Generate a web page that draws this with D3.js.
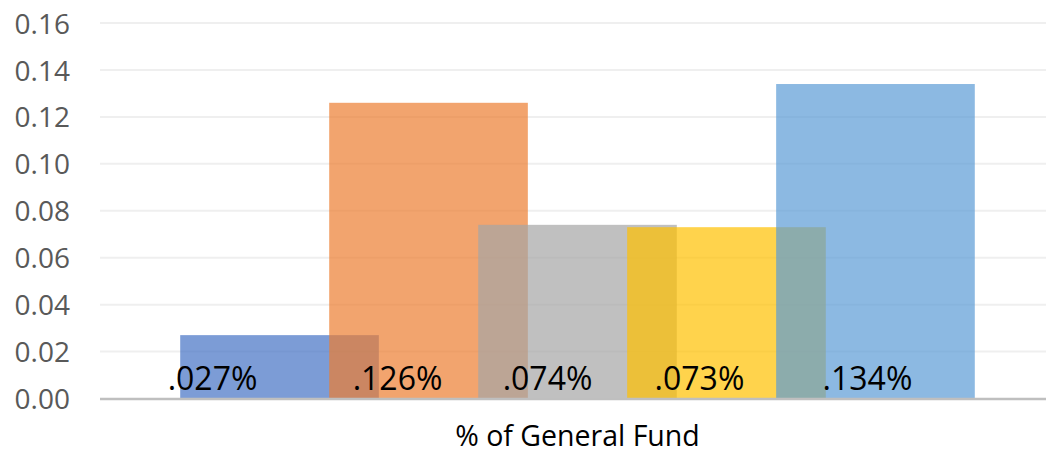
<!DOCTYPE html>
<html>
<head>
<meta charset="utf-8">
<script src="https://cdn.jsdelivr.net/npm/d3@7"></script>
<style>
  html, body { margin: 0; padding: 0; background: #fff; }
  svg { display: block; }
</style>
</head>
<body>
<svg id="chart" width="1046" height="453"></svg>
<script>
// ---- data ----
const categories = ["% of General Fund"];
const series = ["s1", "s2", "s3", "s4", "s5"];
const values = [0.027, 0.126, 0.074, 0.073, 0.134];
const labels = [".027%", ".126%", ".074%", ".073%", ".134%"];
const yTicks = [0, 0.02, 0.04, 0.06, 0.08, 0.10, 0.12, 0.14, 0.16];

// ---- styles / layout ----
const colors = ["#4472C4", "#ED7D31", "#A5A5A5", "#FFC000", "#5B9BD5"];
const labelDx = [-67, -31, -30, -27, -8];
const W = 1046, H = 453;
const plot = { left: 100, right: 1055, top: 23, bottom: 398.5 };

const svg = d3.select("#chart");

const y = d3.scaleLinear().domain([0, 0.16]).range([plot.bottom, plot.top]);
const xCat = d3.scaleBand().domain(categories).range([plot.left, plot.right])
  .paddingInner(0).paddingOuter(0.141);
const xSer = d3.scaleBand().domain(series).range([0, xCat.bandwidth()]).padding(0);
const barW = xSer.bandwidth() * 4 / 3; // 25% overlap

// gridlines
svg.append("g").selectAll("line").data(yTicks.filter(d => d > 0)).join("line")
  .attr("x1", plot.left).attr("x2", W)
  .attr("y1", d => y(d)).attr("y2", d => y(d))
  .attr("stroke", "#efefef").attr("stroke-width", 2);

// y axis labels
const yAxis = d3.axisLeft(y).tickValues(yTicks).tickFormat(d3.format(".2f")).tickSize(0).tickPadding(0);
const ya = svg.append("g").attr("transform", `translate(70,0)`).call(yAxis);
ya.select(".domain").remove();
ya.selectAll("text")
  .attr("font-family", "'Open Sans', sans-serif")
  .attr("font-size", 28)
  .attr("fill", "#595959")
  .attr("dy", "0.36em");

// bars
const cx = (i) => xCat(categories[0]) + xSer(series[i]) + xSer.bandwidth() / 2;
svg.append("g").selectAll("rect").data(values).join("rect")
  .attr("x", (d, i) => cx(i) - barW / 2)
  .attr("width", barW)
  .attr("y", d => y(d))
  .attr("height", d => y(0) - y(d))
  .attr("fill", (d, i) => colors[i])
  .attr("fill-opacity", 0.7);

// x axis line
svg.append("line")
  .attr("x1", plot.left).attr("x2", W)
  .attr("y1", y(0) + 0.5).attr("y2", y(0) + 0.5)
  .attr("stroke", "#bfbfbf").attr("stroke-width", 2.5);

// data labels
svg.append("g").selectAll("text").data(labels).join("text")
  .attr("x", (d, i) => cx(i) + labelDx[i])
  .attr("y", 390)
  .attr("text-anchor", "middle")
  .attr("font-family", "'Open Sans', sans-serif")
  .attr("font-size", 32)
  .attr("fill", "#000")
  .text(d => d);

// category label
svg.append("text")
  .attr("x", xCat(categories[0]) + xCat.bandwidth() / 2)
  .attr("y", 445.5)
  .attr("text-anchor", "middle")
  .attr("font-family", "'Open Sans', sans-serif")
  .attr("font-size", 28.5)
  .attr("fill", "#000")
  .text(categories[0]);
</script>
</body>
</html>
